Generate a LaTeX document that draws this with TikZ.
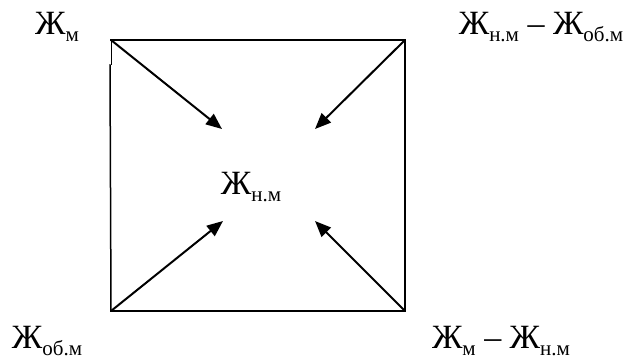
\documentclass[tikz,border=0pt]{standalone}
\usepackage{fontspec}
\setmainfont{Liberation Serif}
\usetikzlibrary{arrows.meta}
\newcommand{\zh}[1]{Ж\raisebox{-7pt}{\fontsize{21}{21}\selectfont #1}}
\begin{document}
\begin{tikzpicture}[x=1pt,y=-1pt,
  lbl/.style={inner sep=0pt,anchor=base,font=\fontsize{34}{34}\selectfont},
  edge/.style={line width=1.5pt,line cap=rect},
  arr/.style={line width=2pt,-{Triangle[length=16pt,width=13pt]}}]
\useasboundingbox (0,0) rectangle (629,360);
\coordinate (tl) at (111,40);
\coordinate (tr) at (405,40);
\coordinate (bl) at (111,311);
\coordinate (br) at (405,311);
\coordinate (ltop) at (110,65);
\coordinate (ttl) at (222,129);
\coordinate (ttr) at (315,129);
\coordinate (tbl) at (223,221);
\coordinate (tbr) at (315,221);
\draw[edge] (tl) -- (tr) -- (br) -- (bl);
\draw[edge] (bl) -- (ltop);
\draw[line width=0.8pt] (tl) -- (tl |- ltop);
\node[lbl] (a) at (57,34) {\zh{м}};
\node[lbl] (b) at (541,34) {\zh{н.м} – \zh{об.м}};
\node[lbl] (c) at (47,348) {\zh{об.м}};
\node[lbl] (d) at (501,348) {\zh{м} – \zh{н.м}};
\node[lbl] (e) at (251,194) {\zh{н.м}};
\draw[arr] (tl) -- (ttl);
\draw[arr] (tr) -- (ttr);
\draw[arr] (bl) -- (tbl);
\draw[arr] (br) -- (tbr);
\end{tikzpicture}
\end{document}
